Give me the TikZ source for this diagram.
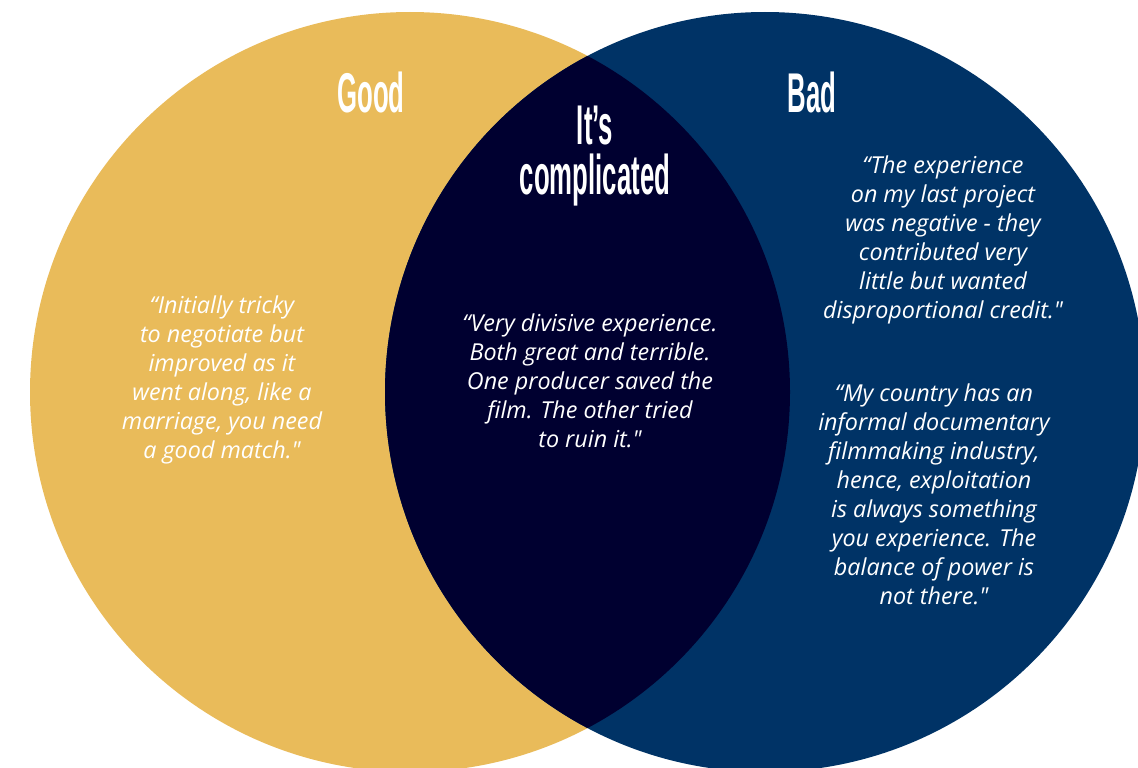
\documentclass[tikz,border=0pt]{standalone}
\usepackage{fontspec}
\newfontfamily\quotefont{Open Sans}
\newfontfamily\headfont[FakeStretch=0.46]{Liberation Sans}

\definecolor{goodyellow}{RGB}{233,187,90}
\definecolor{badblue}{RGB}{0,51,102}
\definecolor{mixnavy}{RGB}{0,0,48}

\begin{document}
\begin{tikzpicture}[x=0.75pt, y=-0.75pt,
    head/.style={text=white, font=\headfont\bfseries\fontsize{42}{38}\selectfont, align=center},
    quote/.style={text=white, font=\quotefont\itshape\fontsize{17.5}{21.75}\selectfont, align=center}]
  \useasboundingbox (0, 0) rectangle (1138, 767);
  \clip (0, 0) rectangle (1138, 767);

  % the two sets and their overlap
  \fill[goodyellow] (410, 392) circle (380);
  \fill[badblue] (765, 392) circle (380);
  \begin{scope}
    \clip (410, 392) circle (380);
    \fill[mixnavy] (765, 392) circle (380);
  \end{scope}

  \node[head] (good) at (371, 92) {Good};
  \node[head] (bad) at (812, 92) {Bad};
  \node[head] (mixed) at (595, 156) {It’s\\complicated};

  \node[quote] (goodq) at (222, 380) {“Initially tricky\\ to negotiate but\\ improved as it\\ went along, like a\\ marriage, you need\\ a good match."};
  \node[quote] (mixedq) at (590, 381) {“Very divisive experience.\\ Both great and terrible.\\ One producer saved the\\ film. The other tried\\ to ruin it."};
  \node[quote] (badq) at (943, 240) {“The experience\\ on my last project\\ was negative - they\\ contributed very\\ little but wanted\\ disproportional credit."};
  \node[quote] (badq2) at (934, 494) {“My country has an\\ informal documentary\\ filmmaking industry,\\ hence, exploitation\\ is always something\\ you experience. The\\ balance of power is\\ not there."};
\end{tikzpicture}
\end{document}
